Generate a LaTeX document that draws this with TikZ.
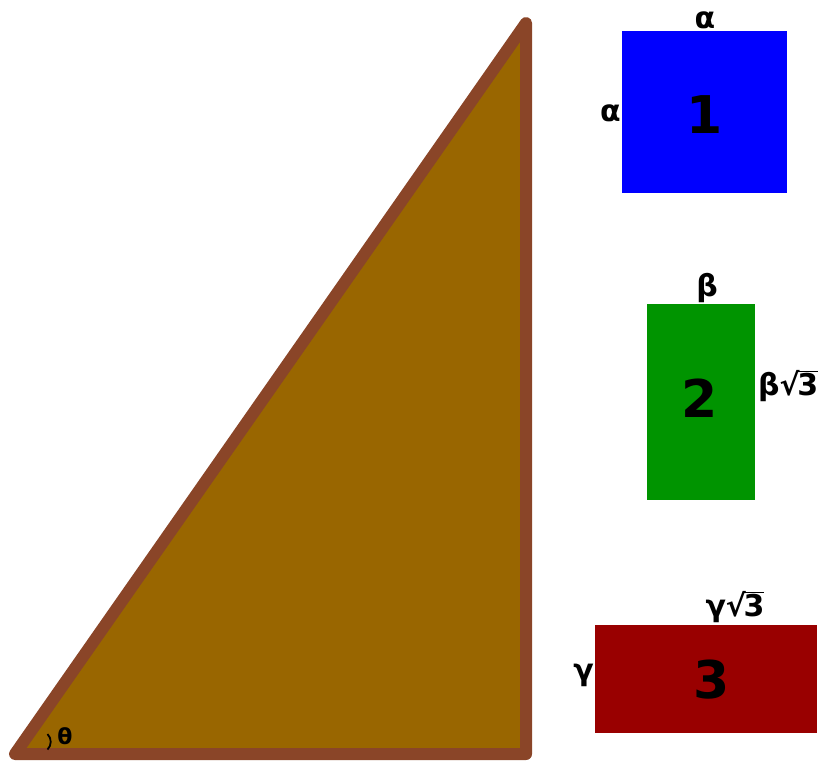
\documentclass[tikz,border=0pt]{standalone}
\usepackage{fontspec}
\setmainfont{DejaVu Sans}
\definecolor{trifill}{HTML}{996600}
\definecolor{triedge}{HTML}{8A4528}
\definecolor{sqblue}{HTML}{0000FF}
\definecolor{recgreen}{HTML}{009400}
\definecolor{recred}{HTML}{990000}
\newcommand{\myroot}[1]{√\kern-0.08em\vbox{\hrule height 1.6pt\kern 1pt\hbox{#1}}}
\tikzset{
  shapebox/.style={draw=none, inner sep=0pt, outer sep=0pt, font=\fontsize{52}{56}\selectfont\bfseries},
  sidelabel/.style={inner sep=0pt, font=\fontsize{30}{34}\selectfont\bfseries},
}
\begin{document}
\begin{tikzpicture}[x=1pt,y=-1pt]
\useasboundingbox (0,0) rectangle (827,762);
% triangle
\coordinate (A) at (15,754);
\coordinate (B) at (526,754);
\coordinate (C) at (526,23);
\draw[triedge, fill=trifill, line width=12pt, line join=round] (A) -- (B) -- (C) -- cycle;
% angle mark
\draw[black, line width=1.8pt] (47.5,734) arc[start angle=-45, end angle=45, radius=11];
\node[inner sep=0pt, font=\fontsize{22}{24}\selectfont\bfseries] (theta) at (65,736) {θ};
% square 1
\node[shapebox, fill=sqblue, minimum width=165pt, minimum height=162pt] (s1) at (704.5,112) {};
\node[shapebox] (n1) at (705,115) {1};
\node[sidelabel, anchor=south] (a1) at (705,29) {α};
\node[sidelabel, anchor=east] (a2) at (621,113) {α};
% rectangle 2
\node[shapebox, fill=recgreen, minimum width=108pt, minimum height=196pt] (s2) at (701,402) {};
\node[shapebox] (n2) at (700,398) {2};
\node[sidelabel, anchor=south] (b1) at (707,303) {β};
\node[sidelabel, anchor=west] (b2) at (758,386) {β\myroot{3}};
% rectangle 3
\node[shapebox, fill=recred, minimum width=222pt, minimum height=108pt] (s3) at (706,679) {};
\node[shapebox] (n3) at (712,680) {3};
\node[sidelabel, anchor=east] (g1) at (594,675) {γ};
\node[sidelabel, anchor=south] (g2) at (735,623) {γ\myroot{3}};
\end{tikzpicture}
\end{document}
